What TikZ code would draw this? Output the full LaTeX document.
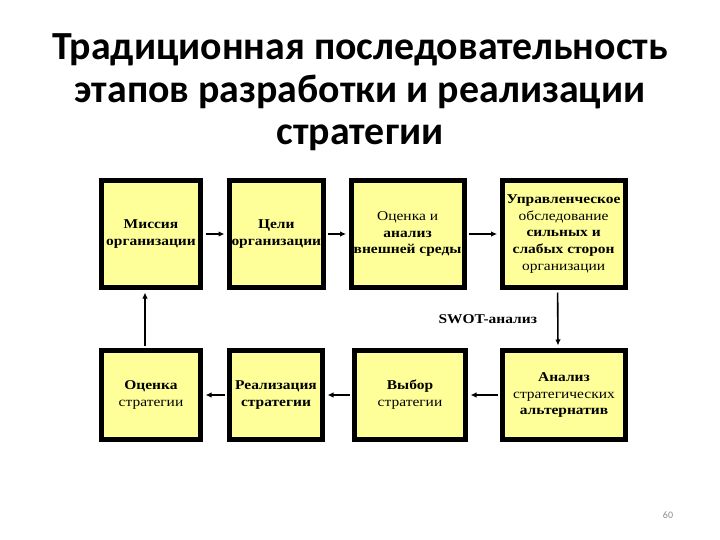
\documentclass[tikz,border=0pt]{standalone}
\usepackage{fontspec}
\setmainfont{Liberation Serif}
\newfontfamily\titlefont{Carlito}
\newfontfamily\boxfont[FakeStretch=1.15]{Liberation Serif}
\usetikzlibrary{arrows.meta,positioning}
\definecolor{BoxFill}{HTML}{FFFF99}
\definecolor{PageNum}{HTML}{8C8C8C}
\newcommand{\lite}[1]{{\mdseries #1}}
\tikzset{
  stage/.style={draw=black, line width=5bp, fill=BoxFill, align=center,
                minimum height=107bp, inner sep=2bp,
                font=\boxfont\bfseries\fontsize{13.5}{17}\selectfont},
  stagelow/.style={stage, minimum height=89bp},
  arrow/.style={-{Latex[length=6bp,width=5.5bp]}, line width=1.6bp, draw=black,
                shorten >=2.5bp, shorten <=2.5bp},
  tag/.style={font=\boxfont\bfseries\fontsize{13.5}{17}\selectfont, inner sep=1pt},
}

\begin{document}
\begin{tikzpicture}[x=1bp, y=1bp]
  \useasboundingbox (0,0) rectangle (720,-540);
  \node[font=\titlefont\bfseries\fontsize{40}{43}\selectfont, align=center, anchor=base] (title) at (360,-145)
    {Традиционная последовательность\\этапов разработки и реализации\\стратегии};
  % top row
  \node[stage, minimum width=99bp] (mission) at (151,-234) {Миссия\\организации};
  \node[stage, minimum width=93bp, right=24bp of mission] (goals) {Цели\\организации};
  \node[stage, minimum width=113bp, right=23bp of goals] (environ) {\lite{Оценка и}\\анализ\\внешней среды};
  \node[stage, minimum width=123bp, right=33bp of environ] (survey) {Управленческое\\\lite{обследование}\\сильных и\\слабых сторон\\\lite{организации}};
  % bottom row
  \node[stagelow, minimum width=99bp, below=58bp of mission] (review) {Оценка\\\lite{стратегии}};
  \node[stagelow, minimum width=93bp, right=24bp of review] (impl) {Реализация\\стратегии};
  \node[stagelow, minimum width=111bp, right=27bp of impl] (choice) {Выбор\\\lite{стратегии}};
  \node[stagelow, minimum width=123bp, right=32bp of choice] (alts) {Анализ\\\lite{стратегических}\\альтернатив};
  \draw[arrow] (mission) -- (goals);
  \draw[arrow] (goals) -- (environ);
  \draw[arrow] (environ) -- (survey);
  \draw[arrow] ([xshift=-6bp]survey.south) -- node[tag, midway, left=19bp] (swot) {SWOT-анализ} ([xshift=-6bp]alts.north);
  \draw[arrow] (alts) -- (choice);
  \draw[arrow] (choice) -- (impl);
  \draw[arrow] (impl) -- (review);
  \draw[arrow] ([xshift=-6bp]review.north) -- ([xshift=-6bp]mission.south);
  \node[font=\titlefont\fontsize{10}{12}\selectfont, text=PageNum] (pagenum) at (668,-515) {60};
\end{tikzpicture}
\end{document}
